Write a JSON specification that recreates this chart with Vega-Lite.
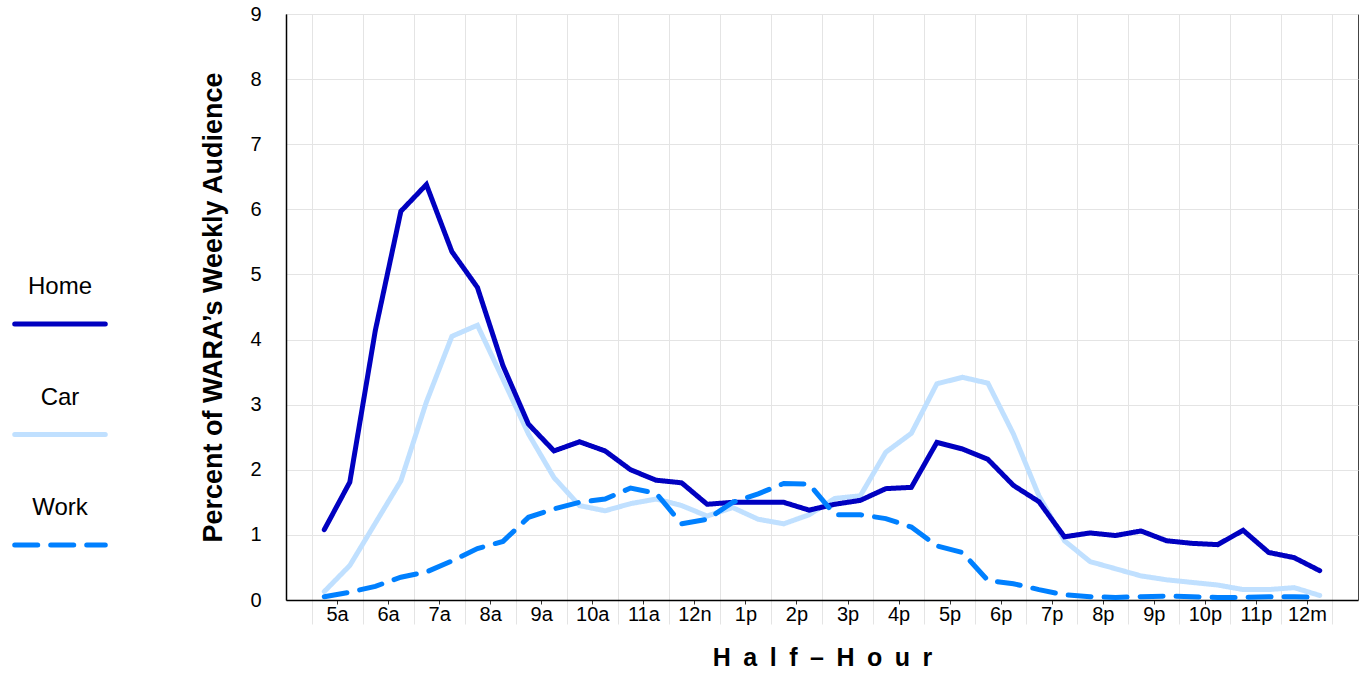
{
  "$schema": "https://vega.github.io/schema/vega-lite/v6.json",
  "background": "white",
  "padding": {"left": 12, "top": 3, "right": 6, "bottom": 0},
  "spacing": 91,
  "config": {"font": "Liberation Sans", "view": {"stroke": null}},
  "hconcat": [
    {
      "width": 96,
      "height": 586,
      "data": {"values": [{"series": "Home"}, {"series": "Car"}, {"series": "Work"}]},
      "layer": [
        {
          "mark": {"type": "rule", "strokeWidth": 5, "strokeCap": "round"},
          "encoding": {
            "x": {"datum": 0, "type": "quantitative", "scale": {"domain": [-0.03, 1.03], "nice": false, "zero": false}, "axis": null},
            "x2": {"datum": 1},
            "y": {"field": "series", "type": "nominal", "scale": {"type": "point", "domain": ["Home", "Car", "Work"], "range": [310, 531], "padding": 0}, "axis": null},
            "color": {"field": "series", "type": "nominal", "scale": {"domain": ["Home", "Car", "Work"], "range": ["#0000C0", "#C0E0FF", "#0080FF"]}, "legend": null},
            "strokeDash": {"field": "series", "type": "nominal", "scale": {"domain": ["Home", "Car", "Work"], "range": [[1, 0], [1, 0], [23, 13]]}, "legend": null}
          }
        },
        {
          "mark": {"type": "text", "fontSize": 24, "dy": -37, "baseline": "middle", "align": "center", "color": "black"},
          "encoding": {
            "x": {"datum": 0.5, "type": "quantitative"},
            "y": {"field": "series", "type": "nominal"},
            "text": {"field": "series", "type": "nominal"}
          }
        }
      ]
    },
    {
      "width": 1072,
      "height": 586,
      "view": {"stroke": "#444", "strokeWidth": 1},
      "data": {
        "values": [
          {"t": 5.25, "Home": 1.08, "Car": 0.13, "Work": 0.05},
          {"t": 5.75, "Home": 1.81, "Car": 0.53, "Work": 0.12},
          {"t": 6.25, "Home": 4.14, "Car": 1.18, "Work": 0.21},
          {"t": 6.75, "Home": 5.97, "Car": 1.83, "Work": 0.35},
          {"t": 7.25, "Home": 6.38, "Car": 3.04, "Work": 0.43},
          {"t": 7.75, "Home": 5.35, "Car": 4.05, "Work": 0.6},
          {"t": 8.25, "Home": 4.8, "Car": 4.22, "Work": 0.79},
          {"t": 8.75, "Home": 3.6, "Car": 3.39, "Work": 0.9},
          {"t": 9.25, "Home": 2.7, "Car": 2.55, "Work": 1.27},
          {"t": 9.75, "Home": 2.29, "Car": 1.88, "Work": 1.4},
          {"t": 10.25, "Home": 2.43, "Car": 1.45, "Work": 1.5},
          {"t": 10.75, "Home": 2.29, "Car": 1.37, "Work": 1.55},
          {"t": 11.25, "Home": 2.0, "Car": 1.48, "Work": 1.72},
          {"t": 11.75, "Home": 1.84, "Car": 1.55, "Work": 1.64},
          {"t": 12.25, "Home": 1.8, "Car": 1.45, "Work": 1.17},
          {"t": 12.75, "Home": 1.47, "Car": 1.29, "Work": 1.24},
          {"t": 13.25, "Home": 1.5, "Car": 1.42, "Work": 1.5},
          {"t": 13.75, "Home": 1.5, "Car": 1.24, "Work": 1.63},
          {"t": 14.25, "Home": 1.5, "Car": 1.17, "Work": 1.79},
          {"t": 14.75, "Home": 1.38, "Car": 1.31, "Work": 1.78},
          {"t": 15.25, "Home": 1.47, "Car": 1.56, "Work": 1.31},
          {"t": 15.75, "Home": 1.53, "Car": 1.6, "Work": 1.31},
          {"t": 16.25, "Home": 1.71, "Car": 2.27, "Work": 1.25},
          {"t": 16.75, "Home": 1.73, "Car": 2.56, "Work": 1.12},
          {"t": 17.25, "Home": 2.42, "Car": 3.32, "Work": 0.83},
          {"t": 17.75, "Home": 2.32, "Car": 3.42, "Work": 0.73},
          {"t": 18.25, "Home": 2.16, "Car": 3.33, "Work": 0.3},
          {"t": 18.75, "Home": 1.76, "Car": 2.55, "Work": 0.25},
          {"t": 19.25, "Home": 1.51, "Car": 1.6, "Work": 0.16},
          {"t": 19.75, "Home": 0.97, "Car": 0.91, "Work": 0.08},
          {"t": 20.25, "Home": 1.03, "Car": 0.59, "Work": 0.05},
          {"t": 20.75, "Home": 0.99, "Car": 0.48, "Work": 0.04},
          {"t": 21.25, "Home": 1.06, "Car": 0.37, "Work": 0.05},
          {"t": 21.75, "Home": 0.91, "Car": 0.31, "Work": 0.06},
          {"t": 22.25, "Home": 0.87, "Car": 0.27, "Work": 0.05},
          {"t": 22.75, "Home": 0.85, "Car": 0.23, "Work": 0.04},
          {"t": 23.25, "Home": 1.07, "Car": 0.16, "Work": 0.04},
          {"t": 23.75, "Home": 0.73, "Car": 0.16, "Work": 0.05},
          {"t": 24.25, "Home": 0.65, "Car": 0.19, "Work": 0.05},
          {"t": 24.75, "Home": 0.45, "Car": 0.07, "Work": 0.04}
        ]
      },
      "transform": [{"fold": ["Car", "Home", "Work"], "as": ["series", "value"]}],
      "mark": {"type": "line", "strokeWidth": 5, "strokeCap": "round"},
      "encoding": {
        "x": {
          "field": "t",
          "type": "quantitative",
          "scale": {"domain": [4.5, 25.5], "nice": false, "zero": false},
          "axis": {
            "values": [5, 5.5, 6, 6.5, 7, 7.5, 8, 8.5, 9, 9.5, 10, 10.5, 11, 11.5, 12, 12.5, 13, 13.5, 14, 14.5, 15, 15.5, 16, 16.5, 17, 17.5, 18, 18.5, 19, 19.5, 20, 20.5, 21, 21.5, 22, 22.5, 23, 23.5, 24, 24.5, 25],
            "labelExpr": "datum.value % 1 === 0 ? '' : floor(datum.value) < 12 ? floor(datum.value) + 'a' : floor(datum.value) === 12 ? '12n' : floor(datum.value) === 24 ? '12m' : (floor(datum.value) - 12) + 'p'",
            "labelFontSize": 20,
            "labelColor": "black",
            "labelPadding": 0,
            "labelFlush": false,
            "labelOverlap": false,
            "domainColor": "black",
            "domainWidth": 1.5,
            "grid": true,
            "gridColor": "#e4e4e4",
            "gridOpacity": {"condition": {"test": "datum.value % 1 === 0", "value": 1}, "value": 0},
            "tickColor": {"condition": {"test": "datum.value % 1 === 0", "value": "#e4e4e4"}, "value": "#333333"},
            "tickSize": {"condition": {"test": "datum.value % 1 === 0", "value": 24}, "value": 4},
            "title": "H\u2002a\u2002l\u2002f\u2002–\u2002H\u2002o\u2002u\u2002r",
            "titleFontSize": 25,
            "titleFontWeight": "bold",
            "titleColor": "black",
            "titlePadding": 1
          }
        },
        "y": {
          "field": "value",
          "type": "quantitative",
          "scale": {"domain": [0, 9], "nice": false},
          "axis": {
            "values": [0, 1, 2, 3, 4, 5, 6, 7, 8, 9],
            "labelFontSize": 20,
            "labelColor": "black",
            "labelPadding": 25,
            "labelFlush": false,
            "ticks": false,
            "tickSize": 0,
            "domainColor": "black",
            "domainWidth": 1.5,
            "gridColor": "#e4e4e4",
            "title": "Percent of WARA’s Weekly Audience",
            "titleFontSize": 27,
            "titleFontWeight": "bold",
            "titleColor": "black",
            "titlePadding": 22
          }
        },
        "color": {"field": "series", "type": "nominal", "scale": {"domain": ["Home", "Car", "Work"], "range": ["#0000C0", "#C0E0FF", "#0080FF"]}, "legend": null},
        "strokeDash": {"field": "series", "type": "nominal", "scale": {"domain": ["Home", "Car", "Work"], "range": [[1, 0], [1, 0], [23, 13]]}, "legend": null}
      }
    }
  ]
}
